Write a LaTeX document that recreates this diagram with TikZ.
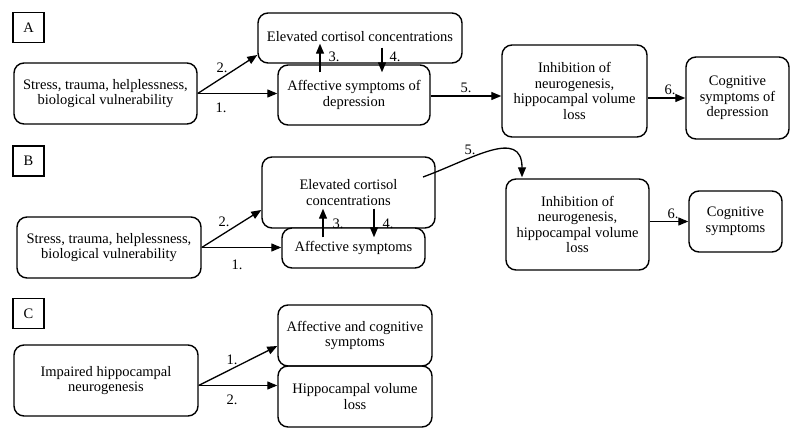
\documentclass[tikz,border=0pt]{standalone}
\usepackage{fontspec}
\setmainfont{Liberation Serif}
\usetikzlibrary{arrows.meta}
\begin{document}
\begin{tikzpicture}[x=1pt,y=-1pt,
	box/.style={draw,line width=1.4pt,rounded corners=10pt,align=center,inner sep=2pt,
		font=\fontsize{14.5}{15.5}\selectfont},
	tag/.style={draw,line width=1.2pt,minimum width=31pt,minimum height=30pt,inner sep=0pt,
		font=\fontsize{14.5}{15.5}\selectfont},
	arr/.style={line width=1.3pt,-{Triangle[length=10pt,width=8pt]}},
	num/.style={inner sep=0pt,font=\fontsize{14.5}{15.5}\selectfont}]

	\useasboundingbox (0,0) rectangle (800,438); % Fixes the page size...
	\fill[white] (0,0) rectangle (800,438);

	\foreach \t/\y in {A/27.5,B/161,C/313.5}{% The three panel letters
		\node[tag] (tag\t) at (28.5,\y) {\t};
	}

	% Panel A
	\node[box,minimum width=183pt,minimum height=61pt] (stressA) at (105.5,93.5)
		{Stress, trauma, helplessness,\\biological vulnerability};
	\node[box,minimum width=204pt,minimum height=50pt] (cortA) at (360,38)
		{\raisebox{3pt}{Elevated cortisol concentrations}};
	\node[box,fill=white,minimum width=152pt,minimum height=60pt] (affA) at (354,95)
		{Affective symptoms of\\depression};
	\node[box,minimum width=145pt,minimum height=92pt] (inhA) at (574.5,91)
		{Inhibition of\\neurogenesis,\\hippocampal volume\\loss};
	\node[box,minimum width=103pt,minimum height=82pt] (cogA) at (737.5,98)
		{Cognitive\\symptoms of\\depression};

	\draw [arr] (stressA.east) -- ([yshift=-17pt]cortA.west);
	\draw [arr] (stressA.east) -- (stressA.east -| affA.west);
	\draw [arr] ([xshift=-34pt,yshift=-8pt]affA.north) -- ([xshift=-40pt,yshift=20pt]cortA.south);
	\draw [arr] ([xshift=22pt,yshift=16pt]cortA.south) -- ([xshift=28pt,yshift=-8pt]affA.north);
	\draw [arr] ([yshift=-1pt]affA.east) -- ([yshift=-1pt]affA.east -| inhA.west);
	\draw [arr] (inhA.east |- cogA.west) -- (cogA.west);
	\node[num] (nA2) at (222,68) {2.};
	\node[num] (nA1) at (221,108) {1.};
	\node[num] (nA3) at (334,57) {3.};
	\node[num] (nA4) at (395,57) {4.};
	\node[num] (nA5) at (466,88) {5.};
	\node[num] (nA6) at (670,90) {6.};

	% Panel B
	\node[box,minimum width=184pt,minimum height=61pt] (stressB) at (109,247.5)
		{Stress, trauma, helplessness,\\biological vulnerability};
	\node[box,minimum width=173pt,minimum height=71pt] (cortB) at (348.5,192.5)
		{Elevated cortisol\\concentrations};
	\node[box,fill=white,minimum width=143pt,minimum height=40pt] (affB) at (353.5,248)
		{Affective symptoms};
	\node[box,minimum width=143pt,minimum height=91pt] (inhB) at (577.5,224.5)
		{Inhibition of\\neurogenesis,\\hippocampal volume\\loss};
	\node[box,minimum width=93pt,minimum height=61pt] (cogB) at (735.5,221.5)
		{Cognitive\\symptoms};
	\coordinate (cortBout) at (423,177);

	\draw [arr] (stressB.east) -- ([yshift=-17.5pt]cortB.west);
	\draw [arr] (stressB.east) -- (stressB.east -| affB.west);
	\draw [arr] ([xshift=-30.5pt,yshift=-10pt]affB.north) -- ([xshift=-25.5pt,yshift=20pt]cortB.south);
	\draw [arr] ([xshift=25.5pt,yshift=20pt]cortB.south) -- ([xshift=20.5pt,yshift=-10pt]affB.north);
	\draw [arr] (cortBout) to[out=20,in=90,looseness=1.3] ([xshift=-55.5pt,yshift=1pt]inhB.north);
	\draw [arr] (inhB.east |- cogB.west) -- (cogB.west);
	\node[num] (nB2) at (224,222) {2.};
	\node[num] (nB1) at (237,265) {1.};
	\node[num] (nB3) at (338,224) {3.};
	\node[num] (nB4) at (388,224) {4.};
	\node[num] (nB5) at (470,150) {5.};
	\node[num] (nB6) at (673,214) {6.};

	% Panel C
	\node[box,minimum width=184pt,minimum height=71pt] (impC) at (106,380.5)
		{Impaired hippocampal\\neurogenesis};
	\node[box,minimum width=154pt,minimum height=61pt] (affC) at (355,335.5)
		{Affective and cognitive\\symptoms};
	\node[box,minimum width=154pt,minimum height=61pt] (hipC) at (355,396.5)
		{Hippocampal volume\\loss};

	\draw [arr] ([yshift=-5pt]impC.east) -- ([yshift=-10.5pt]affC.west);
	\draw [arr] ([yshift=-5pt]impC.east) -- ([yshift=-5pt]impC.east -| hipC.west);
	\node[num] (nC1) at (232,360) {1.};
	\node[num] (nC2) at (232,400) {2.};

\end{tikzpicture}
\end{document}
